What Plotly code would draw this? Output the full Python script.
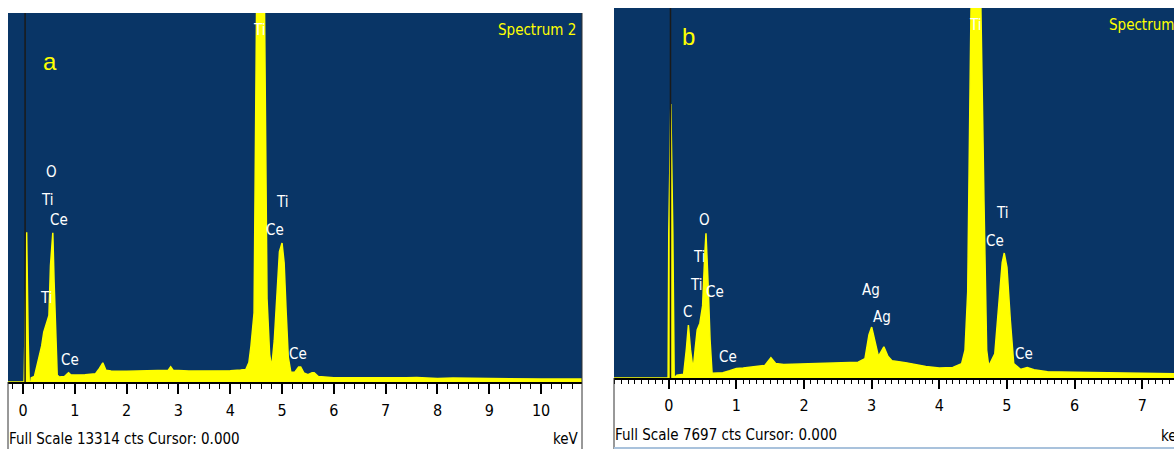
import plotly.graph_objects as go

W, H = 1174, 449

# ---------------- data ----------------
# Panel a: energy (keV) and counts, full scale 13314 cts
a_energy = [-0.29, 0.02, 0.04, 0.07, 0.10, 0.12, 0.15, 0.16, 0.22, 0.25, 0.28, 0.32, 0.36, 0.40,
            0.43, 0.47, 0.50, 0.53, 0.56, 0.575, 0.60, 0.63, 0.66, 0.70, 0.80, 0.86, 0.88, 0.92,
            1.00, 1.20, 1.40, 1.46, 1.54, 1.60, 1.70, 2.00, 2.40, 2.80, 2.85, 2.90, 3.20, 3.60,
            4.00, 4.20, 4.30, 4.36, 4.40, 4.46, 4.49, 4.51, 4.58, 4.65, 4.68, 4.71, 4.76, 4.80,
            4.85, 4.90, 4.95, 5.00, 5.04, 5.08, 5.12, 5.17, 5.25, 5.32, 5.36, 5.42, 5.50, 5.58,
            5.62, 5.70, 6.00, 6.60, 7.00, 7.20, 7.40, 7.60, 8.00, 8.30, 9.00, 10.0, 10.79]
a_counts = [0, 0, 2000, 5400, 1500, 0, 0, 150, 200, 430, 700, 980, 1300, 1800,
            2000, 2200, 2400, 4200, 5300, 5380, 3600, 1500, 250, 180, 200, 300, 330, 260,
            250, 260, 300, 450, 690, 420, 400, 390, 400, 420, 550, 420, 400, 400,
            410, 430, 450, 700, 1300, 2500, 10000, 16000, 30000, 16000, 9000, 3000, 1000, 520,
            1500, 3200, 4700, 5015, 4300, 2500, 900, 350, 360, 540, 540, 330, 260, 330,
            330, 200, 150, 150, 140, 160, 150, 160, 130, 140, 120, 110, 110]

# Panel b: energy (keV) and counts, full scale 7697 cts
b_energy = [-0.81, -0.01, 0.00, 0.03, 0.06, 0.08, 0.12, 0.22, 0.26, 0.29, 0.32, 0.36, 0.39, 0.42,
            0.46, 0.50, 0.53, 0.55, 0.58, 0.61, 0.64, 0.70, 0.80, 0.90, 1.00, 1.10, 1.20, 1.30,
            1.42, 1.51, 1.58, 1.70, 2.00, 2.30, 2.60, 2.80, 2.90, 2.96, 3.00, 3.06, 3.10, 3.18,
            3.24, 3.30, 3.50, 3.80, 4.00, 4.20, 4.33, 4.38, 4.42, 4.45, 4.47, 4.54, 4.60, 4.63,
            4.66, 4.70, 4.73, 4.82, 4.88, 4.93, 4.96, 5.00, 5.05, 5.10, 5.20, 5.30, 5.40, 5.60,
            6.00, 6.50, 7.00, 7.47]
b_counts = [0, 0, 3000, 5700, 3000, 0, 60, 80, 600, 1100, 600, 170, 600, 1000,
            1140, 1500, 2500, 3010, 2000, 800, 100, 100, 110, 150, 200, 210, 230, 240,
            260, 420, 300, 280, 290, 300, 310, 330, 400, 900, 1060, 700, 450, 650,
            450, 360, 320, 240, 210, 220, 300, 580, 1800, 5500, 9000, 16000, 9000, 6000,
            3700, 580, 250, 500, 1500, 2400, 2600, 2300, 1200, 300, 180, 220, 170, 130,
            120, 110, 100, 90]

ticks_a = [0, 1, 2, 3, 4, 5, 6, 7, 8, 9, 10]
ticks_b = [0, 1, 2, 3, 4, 5, 6, 7]

# peak labels: (text, keV, counts)
labels_a = [("O", 0.55, 7577), ("Ti", 0.47, 6567), ("Ce", 0.685, 5845), ("Ti", 0.45, 3031),
            ("Ce", 0.90, 794), ("Ti", 4.57, 12700), ("Ti", 5.01, 6494), ("Ce", 4.87, 5484),
            ("Ce", 5.30, 1010)]
labels_b = [("O", 0.53, 3286), ("Ti", 0.455, 2523), ("Ti", 0.415, 1934), ("Ce", 0.68, 1795),
            ("C", 0.28, 1379), ("Ce", 0.875, 430), ("Ag", 2.99, 1830), ("Ag", 3.15, 1275),
            ("Ti", 4.53, 7342), ("Ti", 4.94, 3438), ("Ce", 4.82, 2856), ("Ce", 5.25, 499)]

full_scale_a = 13314
full_scale_b = 7697

# ---------------- styling ----------------
BLUE = "#093566"
YEL = "#ffff00"
NARROW = "DejaVu Sans Condensed, Liberation Sans Narrow, Arial Narrow, Liberation Sans, sans-serif"


def px(x):
    return x / W


def py(y):
    return 1 - y / H


fig = go.Figure()
fig.add_trace(go.Scatter(x=a_energy, y=a_counts, mode="lines", fill="tozeroy",
                         line=dict(color=YEL, width=1.5), fillcolor=YEL,
                         xaxis="x", yaxis="y", hoverinfo="skip", showlegend=False))
fig.add_trace(go.Scatter(x=b_energy, y=b_counts, mode="lines", fill="tozeroy",
                         line=dict(color=YEL, width=1.5), fillcolor=YEL,
                         xaxis="x2", yaxis="y2", hoverinfo="skip", showlegend=False))

axis_common = dict(showgrid=False, zeroline=False, showline=True, linecolor="black",
                   linewidth=2, ticks="outside", tickcolor="black", tickwidth=1.5,
                   tickfont=dict(family=NARROW, size=16, color="black"),
                   fixedrange=True)

fig.update_layout(
    width=W, height=H,
    margin=dict(l=0, r=0, t=0, b=0),
    paper_bgcolor="white",
    plot_bgcolor=BLUE,
    showlegend=False,
    xaxis=dict(domain=[px(8), px(582)], range=[-0.29, 10.79], tickvals=ticks_a,
               ticklen=10, ticklabelstandoff=3,
               minor=dict(dtick=0.2, tick0=0, ticklen=5, tickcolor="black", tickwidth=1,
                          ticks="outside"),
               anchor="y", **axis_common),
    yaxis=dict(domain=[py(382), py(13)], range=[0, full_scale_a], visible=False,
               anchor="x", fixedrange=True),
    xaxis2=dict(domain=[px(614), 1.0], range=[-0.81, 7.47], tickvals=ticks_b,
                ticklen=9, ticklabelstandoff=3,
                minor=dict(dtick=0.1, tick0=0, ticklen=4, tickcolor="black", tickwidth=1,
                           ticks="outside"),
                anchor="y2", **axis_common),
    yaxis2=dict(domain=[py(378), py(8)], range=[0, full_scale_b], visible=False,
                anchor="x2", fixedrange=True),
)

ann = []
for t, xk, yc in labels_a:
    ann.append(dict(text=t, x=xk, y=yc, xref="x", yref="y", showarrow=False,
                    xanchor="center", yanchor="middle",
                    font=dict(family=NARROW, size=15, color="white")))
for t, xk, yc in labels_b:
    ann.append(dict(text=t, x=xk, y=yc, xref="x2", yref="y2", showarrow=False,
                    xanchor="center", yanchor="middle",
                    font=dict(family=NARROW, size=15, color="white")))

ann += [
    dict(text="a", x=px(50), y=py(62), xref="paper", yref="paper", showarrow=False,
         xanchor="center", yanchor="middle",
         font=dict(family="Liberation Sans, sans-serif", size=24, color=YEL)),
    dict(text="b", x=px(688), y=py(37), xref="paper", yref="paper", showarrow=False,
         xanchor="center", yanchor="middle",
         font=dict(family="Liberation Sans, sans-serif", size=24, color=YEL)),
    dict(text="Spectrum 2", x=px(578), y=py(30), xref="paper", yref="paper",
         xanchor="right", yanchor="middle", showarrow=False,
         font=dict(family=NARROW, size=15, color=YEL)),
    dict(text="Spectrum 1", x=px(1107), y=py(25), xref="paper", yref="paper",
         xanchor="left", yanchor="middle", showarrow=False,
         font=dict(family=NARROW, size=15, color=YEL)),
    dict(text=f"Full Scale {full_scale_a} cts Cursor: 0.000", x=px(7), y=py(439),
         xref="paper", yref="paper", xanchor="left", yanchor="middle", showarrow=False,
         font=dict(family=NARROW, size=15, color="black")),
    dict(text="keV", x=px(581), y=py(439), xref="paper", yref="paper", xanchor="right",
         yanchor="middle", showarrow=False, font=dict(family=NARROW, size=15, color="black")),
    dict(text=f"Full Scale {full_scale_b} cts Cursor: 0.000", x=px(613), y=py(435),
         xref="paper", yref="paper", xanchor="left", yanchor="middle", showarrow=False,
         font=dict(family=NARROW, size=15, color="black")),
    dict(text="keV", x=px(1159), y=py(436), xref="paper", yref="paper", xanchor="left",
         yanchor="middle", showarrow=False, font=dict(family=NARROW, size=15, color="black")),
]
fig.update_layout(annotations=ann)

shapes = [
    # cursor lines
    dict(type="line", xref="x", yref="y domain", x0=0.04, x1=0.04, y0=0, y1=1,
         line=dict(color="#1a1a1a", width=1.5)),
    dict(type="line", xref="x2", yref="y2 domain", x0=0.025, x1=0.025, y0=0, y1=1,
         line=dict(color="#1a1a1a", width=1.5)),
    # panel frames
    dict(type="line", xref="paper", yref="paper", x0=px(8), x1=px(8), y0=py(382), y1=0,
         line=dict(color="#333333", width=1)),
    dict(type="line", xref="paper", yref="paper", x0=px(582), x1=px(582), y0=py(13), y1=0,
         line=dict(color="#333333", width=1)),
    dict(type="line", xref="paper", yref="paper", x0=px(614), x1=px(614), y0=py(378), y1=0,
         line=dict(color="#333333", width=1)),
    dict(type="line", xref="paper", yref="paper", x0=px(614), x1=1, y0=py(448), y1=py(448),
         line=dict(color="#a9c2dc", width=2)),
]
fig.update_layout(shapes=shapes)

fig.write_html("out.html", config={"displayModeBar": False},
               post_script="document.body.style.margin='0';")
